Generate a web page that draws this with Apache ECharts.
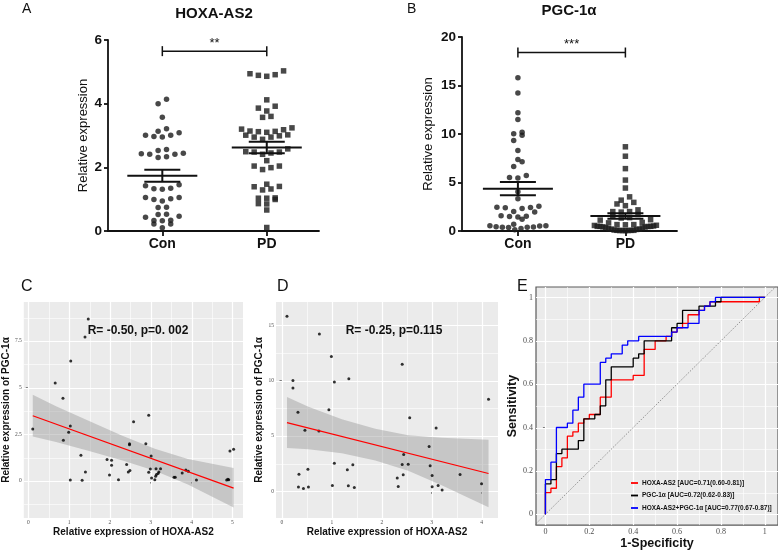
<!DOCTYPE html>
<html lang="en">

<head>
  <meta charset="UTF-8" />
  <title>HOXA-AS2 / PGC-1α</title>
  <style>
    html, body { margin: 0; padding: 0; background: #fff; }
    #main { width: 778px; height: 551px; }
  </style>
</head>

<body>
  <div id="main"></div>
  <script src="https://cdn.jsdelivr.net/npm/echarts@6.0.0/dist/echarts.min.js"></script>
  <script type="text/javascript">
    const FONT = 'Liberation Sans, Arial, sans-serif'
    const SERIF = 'Liberation Serif, Times New Roman, serif'

    // ---------- data ----------
    const groups = ['Con', 'PD']

    // control subjects (panel D: x = HOXA-AS2, y = PGC-1α)
    const conHoxa = [0.10, 0.75, 0.99, 2.41, 0.22, 1.34, 1.05, 0.22, 4.14, 0.94, 0.32, 2.56, 3.09, 0.46, 0.74, 2.95, 2.44, 1.05, 1.42, 2.41,
      2.53, 2.97, 0.52, 1.31, 0.34, 2.43, 3.01, 3.57, 2.31, 4.00, 1.01, 1.33, 3.13, 0.33, 0.43, 0.53, 1.45, 2.33, 3.01, 3.21]
    const conPgc = [15.81, 14.22, 12.19, 11.49, 10.02, 10.17, 9.87, 9.33, 8.31, 7.38, 7.14, 6.66, 5.73, 5.52, 5.46, 4.05, 3.33, 2.55, 2.40, 2.43,
      2.46, 2.31, 2.01, 1.95, 1.56, 1.50, 1.44, 1.53, 1.20, 0.69, 0.54, 0.51, 0.54, 0.39, 0.27, 0.39, 0.36, 0.45, 0.42, 0.12]

    // PD patients (panel C: x = HOXA-AS2, y = PGC-1α)
    const pdHoxa = [1.47, 1.39, 1.04, 0.66, 0.85, 0.11, 1.03, 0.99, 0.86, 2.58, 2.95, 2.48, 2.48, 2.88, 3.01, 1.29, 1.40, 1.03, 1.32, 1.93,
      2.04, 2.04, 1.99, 2.21, 2.41, 2.45, 2.49, 2.95, 2.99, 3.02, 3.10, 3.13, 3.12, 3.14, 3.18, 3.20, 3.24, 3.57, 3.60, 3.77,
      3.86, 3.92, 4.12, 4.86, 4.89, 4.91, 4.94, 5.03]
    const pdPgc = [8.68, 7.71, 6.43, 5.25, 4.43, 2.79, 2.95, 2.61, 2.18, 3.18, 3.52, 2.00, 1.95, 2.00, 1.34, 1.38, 0.48, 0.05, 0.04, 1.16,
      1.12, 0.84, 0.32, 0.07, 0.89, 0.48, 0.57, 0.47, 0.64, 0.16, 0.07, 0.66, 0.25, 0.35, 0.41, 0.48, 0.66, 0.20, 0.20, 0.43,
      0.59, 0.52, 0.05, 0.05, 0.10, 0.07, 1.61, 1.70]

    const aTicks = [0, 2, 4, 6]
    const bTicks = [0, 5, 10, 15, 20]
    const aSig = { text: '**', y: 5.65 }
    const bSig = { text: '***', y: 18.4 }

    const cLineX = [0.11, 5.03]
    const cLineY = [3.50, -0.38]
    const cBandX = [0.11, 0.68, 1.49, 2.29, 3.10, 3.91, 5.03]
    const cBandLo = [2.38, 2.09, 1.61, 1.12, 0.55, -0.18, -1.42]
    const cBandHi = [4.62, 4.01, 3.21, 2.44, 1.73, 1.18, 0.70]
    const cText = 'R= -0.50, p=0. 002'

    const dLineX = [0.10, 4.14]
    const dLineY = [6.21, 1.62]
    const dBandX = [0.10, 0.53, 1.20, 1.87, 2.53, 3.20, 4.14]
    const dBandLo = [3.91, 3.81, 3.44, 2.78, 1.86, 0.55, -1.42]
    const dBandHi = [8.52, 7.65, 6.51, 5.66, 5.06, 4.84, 4.66]
    const dText = 'R= -0.25, p=0.115'

    const cXTicks = [0, 1, 2, 3, 4, 5]
    const cYTicks = [0, 2.5, 5, 7.5]
    const dXTicks = [0, 1, 2, 3, 4]
    const dYTicks = [0, 5, 10, 15]
    const rocTicks = [0, 0.2, 0.4, 0.6, 0.8, 1]

    // ROC curves: (1-specificity, sensitivity) where each step rises
    const rocNames = ['HOXA-AS2 [AUC=0.71(0.60-0.81)]', 'PGC-1α [AUC=0.72(0.62-0.83)]', 'HOXA-AS2+PGC-1α [AUC=0.77(0.67-0.87)]']
    const rocColors = ['#ff0000', '#000000', '#0000ff']
    const hoxaFpr = [0, 0.025, 0.05, 0.075, 0.10, 0.125, 0.15, 0.175, 0.20, 0.25, 0.30, 0.40, 0.45, 0.50, 0.55, 0.575, 0.60, 0.625, 0.65, 0.70, 0.725, 0.75, 0.975, 1]
    const hoxaTpr = [0.10, 0.12, 0.22, 0.26, 0.36, 0.38, 0.42, 0.44, 0.46, 0.54, 0.62, 0.64, 0.76, 0.80, 0.82, 0.84, 0.86, 0.88, 0.92, 0.94, 0.96, 0.98, 1, 1]
    const pgcFpr = [0, 0.025, 0.05, 0.075, 0.15, 0.175, 0.225, 0.25, 0.275, 0.30, 0.40, 0.425, 0.45, 0.575, 0.60, 0.625, 0.70, 0.775, 0.80, 1]
    const pgcTpr = [0.14, 0.16, 0.28, 0.30, 0.34, 0.44, 0.46, 0.50, 0.62, 0.68, 0.72, 0.74, 0.80, 0.86, 0.88, 0.94, 0.96, 0.98, 1, 1]
    const combFpr = [0, 0.025, 0.05, 0.10, 0.125, 0.15, 0.175, 0.25, 0.275, 0.30, 0.35, 0.375, 0.425, 0.575, 0.60, 0.65, 0.70, 0.725, 0.75, 0.775, 1]
    const combTpr = [0.16, 0.24, 0.40, 0.42, 0.48, 0.54, 0.60, 0.70, 0.72, 0.74, 0.78, 0.80, 0.82, 0.84, 0.86, 0.88, 0.94, 0.96, 0.98, 1, 1]
    const diagonal = [-0.1, 1.1]

    // ---------- layout ----------
    const G = {
      a: { left: 108, top: 40, width: 211, height: 191, xMin: 0.48, xMax: 2.5, yMin: 0, yMax: 6 },
      b: { left: 462, top: 37, width: 215, height: 194, xMin: 0.48, xMax: 2.48, yMin: 0, yMax: 20 },
      c: { left: 21, top: 302, width: 222, height: 216, xMin: -0.11, xMax: 5.26, yMin: -1.98, yMax: 9.59 },
      d: { left: 276, top: 302, width: 222, height: 216, xMin: -0.12, xMax: 4.33, yMin: -2.4, yMax: 17.1 },
      e: { left: 536, top: 287, width: 242, height: 240, xMin: -0.043, xMax: 1.06, yMin: -0.05, yMax: 1.048 }
    }

    function stats(v) {
      let m = v.reduce((s, x) => s + x, 0) / v.length
      let sd = Math.sqrt(v.reduce((s, x) => s + (x - m) * (x - m), 0) / (v.length - 1))
      return [m, sd / Math.sqrt(v.length)]
    }

    // GraphPad-like scatter: close values share a row, spread sideways
    function swarm(values, center, g, gap, maxW, size) {
      let pxX = g.width / (g.xMax - g.xMin)
      let pxY = g.height / (g.yMax - g.yMin)
      let idx = values.map((v, i) => i).sort((a, b) => values[a] - values[b])
      let out = []
      let row = []
      let flush = () => {
        let n = row.length
        let step = n > 1 ? Math.min(gap, maxW / (n - 1)) : 0
        let slots = []
        for (let k = 0; k < n; k++) slots.push((k - (n - 1) / 2) * step)
        slots.sort((a, b) => Math.abs(a) - Math.abs(b) || a - b)
        row.forEach((i, k) => out.push([center + slots[k] / pxX, values[i]]))
        row = []
      }
      idx.forEach(i => {
        if (row.length && (values[i] - values[row[0]]) * pxY >= size) flush()
        row.push(i)
      })
      flush()
      return out
    }

    function stairs(fpr, tpr) {
      let pts = [[0, 0]]
      let prev = 0
      fpr.forEach((x, i) => {
        pts.push([x, prev])
        pts.push([x, tpr[i]])
        prev = tpr[i]
      })
      return pts
    }

    function minorOf(ticks, min, max) {
      let step = ticks[1] - ticks[0]
      let res = []
      for (let i = -1; i < ticks.length; i++) {
        let v = ticks[0] + (i + 0.5) * step
        if (v > min && v < max) res.push(v)
      }
      return res
    }

    function gridSeries(idx, g, xt, yt, major, minor) {
      let data = []
      xt.forEach(v => data.push([0, v, major]))
      minorOf(xt, g.xMin, g.xMax).forEach(v => data.push([0, v, minor]))
      yt.forEach(v => data.push([1, v, major]))
      minorOf(yt, g.yMin, g.yMax).forEach(v => data.push([1, v, minor]))
      return {
        type: 'custom', xAxisIndex: idx, yAxisIndex: idx, z: 1, silent: true, data,
        renderItem(params, api) {
          let cs = params.coordSys
          let kind = api.value(0), v = api.value(1), w = api.value(2)
          let style = { stroke: '#ffffff', lineWidth: w }
          if (kind === 0) {
            let x = Math.round(api.coord([v, 0])[0]) + 0.5
            return { type: 'line', shape: { x1: x, y1: cs.y, x2: x, y2: cs.y + cs.height }, style }
          }
          let y = Math.round(api.coord([0, v])[1]) + 0.5
          return { type: 'line', shape: { x1: cs.x, y1: y, x2: cs.x + cs.width, y2: y }, style }
        }
      }
    }

    function bandSeries(idx, xs, lo, hi) {
      return {
        type: 'custom', xAxisIndex: idx, yAxisIndex: idx, z: 2, silent: true,
        data: xs.map((x, i) => [x, lo[i], hi[i]]),
        renderItem(params, api) {
          if (params.dataIndex !== 0) return null
          let top = xs.map((x, i) => api.coord([x, hi[i]]))
          let bot = xs.map((x, i) => api.coord([x, lo[i]])).reverse()
          return { type: 'polygon', shape: { points: top.concat(bot) }, style: { fill: 'rgba(153,153,153,0.45)' } }
        }
      }
    }

    function meanSeries(idx, sets) {
      return {
        type: 'custom', xAxisIndex: idx, yAxisIndex: idx, z: 5, silent: true,
        data: sets.map((v, i) => [i + 1].concat(stats(v))),
        renderItem(params, api) {
          let x = api.value(0), m = api.value(1), se = api.value(2)
          let c = api.coord([x, m])
          let hi = api.coord([x, m + se])[1]
          let lo = api.coord([x, m - se])[1]
          let style = { stroke: '#111111', lineWidth: 2 }
          return {
            type: 'group', children: [
              { type: 'line', shape: { x1: c[0] - 35, y1: c[1], x2: c[0] + 35, y2: c[1] }, style },
              { type: 'line', shape: { x1: c[0] - 18, y1: hi, x2: c[0] + 18, y2: hi }, style },
              { type: 'line', shape: { x1: c[0] - 18, y1: lo, x2: c[0] + 18, y2: lo }, style },
              { type: 'line', shape: { x1: c[0], y1: hi, x2: c[0], y2: lo }, style }
            ]
          }
        }
      }
    }

    function bracketSeries(idx, sig) {
      return {
        type: 'custom', xAxisIndex: idx, yAxisIndex: idx, z: 5, silent: true,
        data: [[1, 2, sig.y]],
        renderItem(params, api) {
          let p1 = api.coord([api.value(0), api.value(2)])
          let p2 = api.coord([api.value(1), api.value(2)])
          let style = { stroke: '#111111', lineWidth: 1.5 }
          return {
            type: 'group', children: [
              { type: 'line', shape: { x1: p1[0], y1: p1[1], x2: p2[0], y2: p2[1] }, style },
              { type: 'line', shape: { x1: p1[0], y1: p1[1] - 5, x2: p1[0], y2: p1[1] + 5 }, style },
              { type: 'line', shape: { x1: p2[0], y1: p2[1] - 5, x2: p2[0], y2: p2[1] + 5 }, style },
              {
                type: 'text', x: (p1[0] + p2[0]) / 2, y: p1[1] - 8,
                style: { text: sig.text, fontSize: 13, fontFamily: FONT, fill: '#111', align: 'center', verticalAlign: 'middle' }
              }
            ]
          }
        }
      }
    }

    // ---------- axes ----------
    function dotXAxis(idx, g) {
      return {
        type: 'value', gridIndex: idx, min: g.xMin, max: g.xMax,
        axisLine: { show: true, lineStyle: { color: '#111', width: 1.8 } },
        axisTick: { show: true, customValues: [1, 2], length: 5, lineStyle: { color: '#111', width: 1.8 } },
        axisLabel: {
          customValues: [1, 2], formatter: v => groups[Math.round(v) - 1] || '', margin: 6,
          fontSize: 14, fontWeight: 'bold', fontFamily: FONT, color: '#111'
        },
        splitLine: { show: false }
      }
    }
    function dotYAxis(idx, g, ticks, gap) {
      return {
        type: 'value', gridIndex: idx, min: g.yMin, max: g.yMax, interval: ticks[1] - ticks[0],
        axisLine: { show: true, lineStyle: { color: '#111', width: 1.8 } },
        axisTick: { show: true, length: 4, lineStyle: { color: '#111', width: 1.8 } },
        axisLabel: { margin: 6, fontSize: 13.5, fontWeight: 'bold', fontFamily: FONT, color: '#111' },
        splitLine: { show: false },
        name: 'Relative expression', nameLocation: 'middle', nameGap: gap,
        nameTextStyle: { fontSize: 13, fontFamily: FONT, color: '#111' }
      }
    }
    function ggAxis(dim, idx, g, ticks, name, opt) {
      let isX = dim === 'x'
      return {
        type: 'value', gridIndex: idx,
        min: isX ? g.xMin : g.yMin, max: isX ? g.xMax : g.yMax,
        axisLine: { show: false },
        axisTick: { show: true, customValues: ticks, length: 2.5, lineStyle: { color: '#333', width: 0.6 } },
        axisLabel: { customValues: ticks, margin: opt.margin, fontSize: opt.size, fontFamily: SERIF, color: '#4d4d4d' },
        splitLine: { show: false },
        name, nameLocation: 'middle', nameGap: opt.gap,
        nameTextStyle: { fontSize: opt.nameSize, fontWeight: 'bold', fontFamily: FONT, color: '#111' }
      }
    }

    let grids = ['a', 'b', 'c', 'd', 'e'].map(k => {
      let g = G[k]
      let base = { left: g.left, top: g.top, width: g.width, height: g.height, containLabel: false }
      if (k === 'c' || k === 'd') return Object.assign(base, { show: true, backgroundColor: '#ebebeb', borderWidth: 0 })
      if (k === 'e') return Object.assign(base, { show: true, backgroundColor: '#ebebeb', borderColor: '#5a5a5a', borderWidth: 1.2 })
      return base
    })

    let small = { margin: 2, size: 5.5, gap: 9, nameSize: 10 }
    let xAxes = [
      dotXAxis(0, G.a),
      dotXAxis(1, G.b),
      ggAxis('x', 2, G.c, cXTicks, 'Relative expression of HOXA-AS2', small),
      ggAxis('x', 3, G.d, dXTicks, 'Relative expression of HOXA-AS2', small),
      ggAxis('x', 4, G.e, rocTicks, '1-Specificity', { margin: 3, size: 8, gap: 9, nameSize: 12.5 })
    ]
    let yAxes = [
      dotYAxis(0, G.a, aTicks, 18),
      dotYAxis(1, G.b, bTicks, 27),
      ggAxis('y', 2, G.c, cYTicks, 'Relative expression of PGC-1α', { margin: 2, size: 5.5, gap: 8, nameSize: 10 }),
      ggAxis('y', 3, G.d, dYTicks, 'Relative expression of PGC-1α', { margin: 2, size: 5.5, gap: 8, nameSize: 10 }),
      ggAxis('y', 4, G.e, rocTicks, 'Sensitivity', { margin: 3, size: 8, gap: 13, nameSize: 12.5 })
    ]

    // ---------- series ----------
    let dot = { color: '#1a1a1a' }
    let series = [
      // A: HOXA-AS2
      { type: 'scatter', xAxisIndex: 0, yAxisIndex: 0, symbol: 'circle', symbolSize: 5.5, itemStyle: dot, z: 3, silent: true,
        data: swarm(conHoxa, 1, G.a, 8.4, 54, 5.5) },
      { type: 'scatter', xAxisIndex: 0, yAxisIndex: 0, symbol: 'rect', symbolSize: 5.5, itemStyle: dot, z: 3, silent: true,
        data: swarm(pdHoxa, 2, G.a, 8.4, 54, 5.5) },
      meanSeries(0, [conHoxa, pdHoxa]),
      bracketSeries(0, aSig),
      // B: PGC-1α
      { type: 'scatter', xAxisIndex: 1, yAxisIndex: 1, symbol: 'circle', symbolSize: 5.5, itemStyle: dot, z: 3, silent: true,
        data: swarm(conPgc, 1, G.b, 8.4, 56, 5.5) },
      { type: 'scatter', xAxisIndex: 1, yAxisIndex: 1, symbol: 'rect', symbolSize: 5.5, itemStyle: dot, z: 3, silent: true,
        data: swarm(pdPgc, 2, G.b, 8.4, 62, 5.5) },
      meanSeries(1, [conPgc, pdPgc]),
      bracketSeries(1, bSig),
      // C: PD correlation
      gridSeries(2, G.c, cXTicks, cYTicks, 1.2, 0.6),
      bandSeries(2, cBandX, cBandLo, cBandHi),
      { type: 'scatter', xAxisIndex: 2, yAxisIndex: 2, symbolSize: 3, itemStyle: { color: '#000' }, z: 3, silent: true,
        data: pdHoxa.map((x, i) => [x, pdPgc[i]]) },
      { type: 'line', xAxisIndex: 2, yAxisIndex: 2, showSymbol: false, z: 4, silent: true,
        lineStyle: { color: '#ff0000', width: 1.2 }, data: cLineX.map((x, i) => [x, cLineY[i]]) },
      // D: control correlation
      gridSeries(3, G.d, dXTicks, dYTicks, 1.2, 0.6),
      bandSeries(3, dBandX, dBandLo, dBandHi),
      { type: 'scatter', xAxisIndex: 3, yAxisIndex: 3, symbolSize: 3, itemStyle: { color: '#000' }, z: 3, silent: true,
        data: conHoxa.map((x, i) => [x, conPgc[i]]) },
      { type: 'line', xAxisIndex: 3, yAxisIndex: 3, showSymbol: false, z: 4, silent: true,
        lineStyle: { color: '#ff0000', width: 1.2 }, data: dLineX.map((x, i) => [x, dLineY[i]]) },
      // E: ROC
      gridSeries(4, G.e, rocTicks, rocTicks, 1.2, 0.6),
      { type: 'line', xAxisIndex: 4, yAxisIndex: 4, showSymbol: false, z: 2, silent: true, clip: true,
        lineStyle: { color: '#555', width: 0.6, type: [1.5, 1.5] }, data: diagonal.map(v => [v, v]) }
    ]
    let rocSets = [[hoxaFpr, hoxaTpr], [pgcFpr, pgcTpr], [combFpr, combTpr]]
    rocSets.forEach((r, i) => {
      series.push({
        name: rocNames[i], type: 'line', xAxisIndex: 4, yAxisIndex: 4, showSymbol: false, z: 3 + i, silent: true,
        color: rocColors[i], lineStyle: { color: rocColors[i], width: 1.3 }, data: stairs(r[0], r[1])
      })
    })

    function label(text, x, y, size, opt) {
      return {
        type: 'text', x, y, z: 50, silent: true,
        style: Object.assign({ text, fontSize: size, fontFamily: FONT, fill: '#111', align: 'left', verticalAlign: 'middle' }, opt || {})
      }
    }

    let option = {
      animation: false,
      backgroundColor: '#ffffff',
      grid: grids,
      xAxis: xAxes,
      yAxis: yAxes,
      legend: {
        data: rocNames, orient: 'vertical', left: 631, top: 479, padding: 0,
        itemWidth: 7, itemHeight: 1.8, itemGap: 4.5, icon: 'rect', selectedMode: false,
        textStyle: { fontSize: 6.5, fontWeight: 'bold', fontFamily: FONT, color: '#111', lineHeight: 8, padding: [0, 0, 0, -1] }
      },
      graphic: { elements: [
        label('A', 22, 9, 14),
        label('B', 407, 9, 14),
        label('C', 21, 287, 16),
        label('D', 277, 287, 16),
        label('E', 517, 287, 16),
        label('HOXA-AS2', 214, 14, 15, { align: 'center', fontWeight: 'bold' }),
        label('PGC-1α', 569, 11, 15, { align: 'center', fontWeight: 'bold' }),
        label(cText, 138, 331, 12, { align: 'center', fontWeight: 'bold' }),
        label(dText, 394, 331, 12, { align: 'center', fontWeight: 'bold' })
      ] },
      series
    }

    let myChart = echarts.init(document.getElementById('main'), null, { renderer: 'canvas' })
    myChart.setOption(option)
  </script>
</body>

</html>
